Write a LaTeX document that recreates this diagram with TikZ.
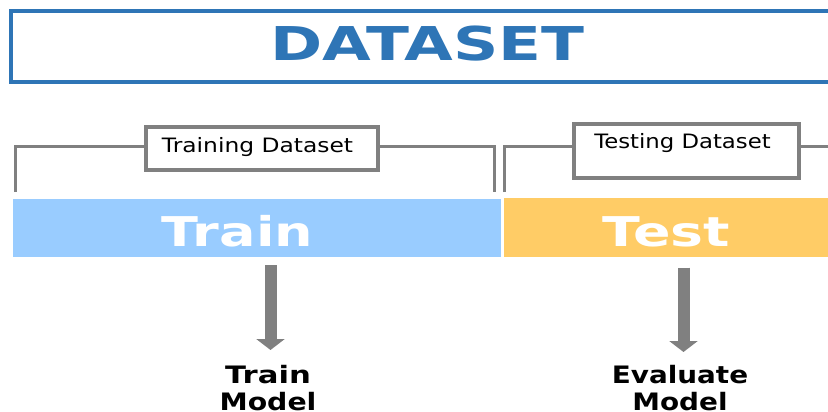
\documentclass[tikz,border=0pt]{standalone}
\usepackage{fontspec}
\setmainfont{DejaVu Sans}
\usetikzlibrary{arrows.meta}

\definecolor{titleblue}{RGB}{46,117,182}
\definecolor{trainblue}{RGB}{153,204,255}
\definecolor{testorange}{RGB}{255,204,102}
\definecolor{linegray}{RGB}{128,128,128}

\begin{document}
\begin{tikzpicture}[x=1pt,y=-1pt,
  titletext/.style={anchor=base, inner sep=0pt, text=titleblue,
    font=\fontsize{46.6}{50}\selectfont\bfseries},
  labelbox/.style={draw=linegray, line width=4pt, fill=white, inner sep=0pt},
  boxtext/.style={anchor=base, inner sep=0pt, text=black,
    font=\fontsize{19.8}{22}\selectfont},
  bracket/.style={draw=linegray, line width=3.4pt},
  bar/.style={inner sep=0pt, draw=none},
  bartext/.style={anchor=base, inner sep=0pt, text=white,
    font=\fontsize{41}{44}\selectfont\bfseries},
  fatarrow/.style={draw=linegray, line width=12pt,
    -{Triangle[width=28pt,length=11pt]}},
  steplabel/.style={anchor=base, inner sep=0pt, align=center, text=black,
    font=\fontsize{24}{26.5}\selectfont\bfseries}
]
\useasboundingbox (0,0) rectangle (828,412);
\clip (0,0) rectangle (828,412);
\fill[white] (0,0) rectangle (828,412);

% title frame, running off the right side
\draw[titleblue, line width=4pt] (10.5,11) rectangle (870,82.5);
\node[titletext] (title) at (427.5,61) {\scalebox{1.35}[1]{DATASET}};

% level of the bracket lines
\coordinate (lvl) at (0,146.5);

% training bracket
\node[labelbox, minimum width=231.7pt, minimum height=43.5pt] (trbox) at (261.7,148.25) {};
\node[boxtext] (trlabel) at (257.5,152.5) {\scalebox{1.18}[1]{Training Dataset}};
\coordinate (trL) at (15.5,192);
\coordinate (trR) at (494.5,192);
\draw[bracket] (trL) |- (trbox.west |- lvl);
\draw[bracket] (trbox.east |- lvl) -| (trR);

% testing bracket
\node[labelbox, minimum width=225pt, minimum height=54pt] (tsbox) at (686,150.5) {};
\node[boxtext] (tslabel) at (682.5,148.3) {\scalebox{1.15}[1]{Testing Dataset}};
\coordinate (tsL) at (504.5,192);
\coordinate (tsR) at (870,146.5);
\draw[bracket] (tsL) |- (tsbox.west |- lvl);
\draw[bracket] (tsbox.east |- lvl) -- (tsR);

% split bars
\node[bar, fill=trainblue, minimum width=488pt, minimum height=58pt] (trainbar) at (256.7,228) {};
\node[bar, fill=testorange, minimum width=366pt, minimum height=59pt] (testbar) at (687,227.5) {};
\node[bartext] (traintext) at (237.5,246.7) {\scalebox{1.32}[1]{Train}};
\node[bartext] (testtext) at (666.5,246.7) {\scalebox{1.35}[1]{Test}};

% arrows to the steps
\coordinate (a1s) at (270.5,265);
\coordinate (a1e) at (270.5,350);
\coordinate (a2s) at (683.5,267.5);
\coordinate (a2e) at (683.5,352);
\draw[fatarrow] (a1s) -- (a1e);
\draw[fatarrow] (a2s) -- (a2e);

% steps (base anchor sits on the last line)
\node[steplabel] (trainmodel) at (268,410) {\scalebox{1.28}[1]{Train}\\\scalebox{1.18}[1]{Model}};
\node[steplabel] (evalmodel) at (680,410) {\scalebox{1.16}[1]{Evaluate}\\\scalebox{1.16}[1]{Model}};
\end{tikzpicture}
\end{document}
